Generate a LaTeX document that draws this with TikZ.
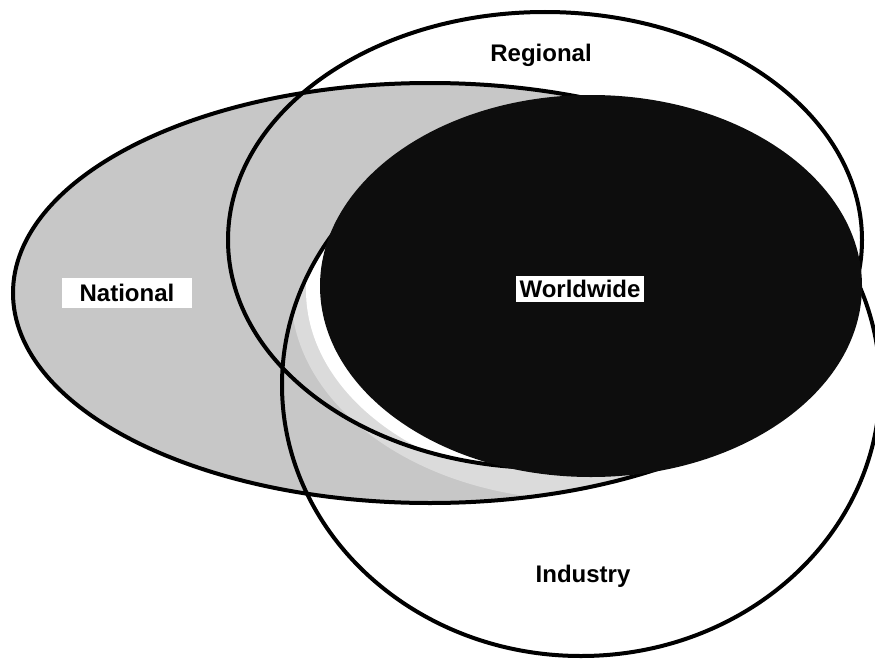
\documentclass[tikz,border=0pt]{standalone}
\usepackage{fontspec}
\setmainfont{Liberation Sans}
\usepackage{tikz}

\tikzset{
    outline/.style={line width=4pt, black},
    lbl/.style={font={\fontsize{24}{28}\selectfont\bfseries}, black, anchor=base},
    boxlbl/.style={lbl, fill=white, anchor=center}
}

\begin{document}
\begin{tikzpicture}[x=1pt, y=-1pt]
        \useasboundingbox (0,0) rectangle (875,661);

        % national, stippled
        \fill[black!22] (430,293) ellipse [x radius=417, y radius=210];

        % light halo round the worldwide set
        \begin{scope}
            \clip (430,293) ellipse [x radius=417, y radius=210];
            \clip (581,385) ellipse [x radius=299, y radius=271];
            \fill[black!14] (583,293) ellipse [x radius=292, y radius=207];
            \clip (545,240) ellipse [x radius=317, y radius=228];
            \fill[white] (587,290) ellipse [x radius=281, y radius=197];
        \end{scope}

        \draw[outline] (430,293) ellipse [x radius=417, y radius=210];
        \draw[outline] (545,240) ellipse [x radius=317, y radius=228];
        \draw[outline] (581,385) ellipse [x radius=299, y radius=271];

        % worldwide
        \fill[black!95] (591,286) ellipse [x radius=271, y radius=191];

        \node[lbl] (regional) at (541,62) {Regional};
        \node[boxlbl, inner xsep=18pt, inner ysep=6pt] (national) at (127,293) {National};
        \node[boxlbl, inner xsep=4pt, inner ysep=4.5pt] (worldwide) at (580,289) {Worldwide};
        \node[lbl] (industry) at (583,582) {Industry};
    \end{tikzpicture}
\end{document}
